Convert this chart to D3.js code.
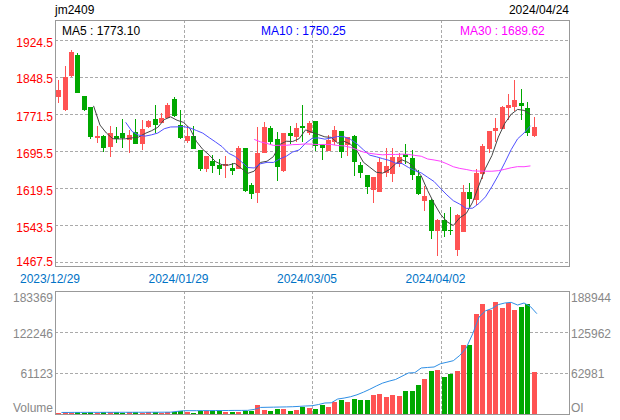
<!DOCTYPE html>
<meta charset="utf-8">
<style>
    body { margin: 0; background: #fff; }
    svg { display: block; font-family: Arial, "Liberation Sans", sans-serif; font-size: 12px; }
    .grid { stroke: #aaa; stroke-dasharray: 3,2; shape-rendering: crispEdges; }
    .frame { fill: none; stroke: #999; shape-rendering: crispEdges; }
</style>
<svg width="620" height="420"></svg>
<script src="https://d3js.org/d3.v7.min.js"></script>
<script>

    var symbol = "jm2409",
        lastDate = "2024/04/24",
        maTexts = ["MA5 : 1773.10", "MA10 : 1750.25", "MA30 : 1689.62"];

    var dateTicks = [[0, "2023/12/29"], [20, "2024/01/29"], [40, "2024/03/05"], [60, "2024/04/02"]];
    var priceTicks = [1467.5, 1543.5, 1619.5, 1695.5, 1771.5, 1848.5, 1924.5];
    var volTicks = [61123, 122246, 183369];
    var oiTicks = [62981, 125962, 188944];

    var opens = [1806.5, 1780.5, 1849, 1893.5, 1809, 1786, 1723.5, 1727, 1703, 1727,
        1732.5, 1718.5, 1735.5, 1710.5, 1746, 1762, 1755, 1763.5, 1802.5, 1749.5,
        1717, 1727.5, 1698, 1658.5, 1675.5, 1667, 1665.5, 1661, 1660.5, 1703,
        1626, 1610, 1691.5, 1743.5, 1720, 1653.5, 1732.5, 1724, 1747.5, 1732.5,
        1758, 1708.5, 1696.5, 1715, 1737, 1710, 1727, 1667, 1646.5, 1615.5,
        1612, 1650, 1648, 1669, 1690, 1681, 1644.5, 1593.5, 1595, 1532,
        1554, 1533.5, 1492, 1530, 1612, 1593.5, 1648.5, 1700, 1737, 1741.5,
        1785, 1787, 1794, 1784, 1725.5];
    var highs = [1842, 1871, 1904, 1898.5, 1809, 1787, 1747.5, 1729, 1747.5, 1745,
        1762, 1739, 1762, 1760, 1760, 1790.5, 1773.5, 1795.5, 1808, 1780.5,
        1747.5, 1747.5, 1698, 1685.5, 1688, 1679.5, 1685.5, 1672, 1706.5, 1703,
        1630.5, 1745, 1756.5, 1747.5, 1734.5, 1733.5, 1748, 1753, 1790.5, 1758,
        1758.5, 1708.5, 1729, 1747.5, 1737, 1725.5, 1729, 1674, 1646.5, 1642.5,
        1681, 1701.5, 1701.5, 1691.5, 1710.5, 1698, 1657, 1624, 1597, 1556,
        1567.5, 1580, 1566.5, 1626, 1629.5, 1658.5, 1710.5, 1737, 1763.5, 1788.5,
        1813.5, 1842, 1823, 1797.5, 1765.5];
    var lows = [1794, 1779, 1849, 1814.5, 1779, 1720, 1712, 1693.5, 1683, 1712,
        1703, 1692.5, 1710.5, 1698, 1742.5, 1733.5, 1753, 1763.5, 1766.5, 1720,
        1713, 1701.5, 1655, 1652, 1651.5, 1646.5, 1640, 1646.5, 1660.5, 1612,
        1597, 1588.5, 1691.5, 1708, 1635, 1653.5, 1710.5, 1714, 1715, 1729,
        1695, 1677.5, 1696.5, 1708.5, 1682, 1686.5, 1645, 1640, 1607.5, 1588.5,
        1612, 1643, 1631.5, 1663.5, 1669, 1636.5, 1605.5, 1573, 1514, 1480.5,
        1518.5, 1523, 1480.5, 1530, 1581.5, 1585, 1637.5, 1692.5, 1715, 1741.5,
        1760, 1779, 1760, 1727.5, 1725.5];
    var closes = [1821.5, 1847.5, 1899, 1814.5, 1780.5, 1723.5, 1727, 1701.5, 1732.5, 1721.5,
        1721.5, 1729, 1710.5, 1740.5, 1758.5, 1749.5, 1764.5, 1790.5, 1768.5, 1723.5,
        1727.5, 1701.5, 1658.5, 1685.5, 1665.5, 1659, 1670, 1655, 1703, 1614.5,
        1607.5, 1692.5, 1745, 1715, 1662.5, 1732.5, 1725.5, 1742.5, 1744, 1753,
        1707, 1703, 1718.5, 1739, 1693.5, 1725.5, 1674, 1650, 1621.5, 1642,
        1674, 1665, 1683, 1683, 1684.5, 1645, 1607.5, 1603.5, 1532, 1554,
        1532, 1530.5, 1564.5, 1612, 1597, 1650, 1706.5, 1737, 1742.5, 1787,
        1790.5, 1801, 1787, 1732.5, 1745];
    var volumes = [2200, 2400, 2000, 2400, 1800, 2400, 2000, 2400, 2300, 2400,
        2000, 2300, 2400, 2200, 2400, 2300, 2200, 2300, 2600, 3900,
        2400, 1500, 3900, 3900, 3900, 3900, 2400, 2400, 2400, 3900,
        3900, 12800, 6400, 3900, 7900, 7900, 4900, 6400, 10200, 8300,
        7900, 12800, 9800, 18300, 20300, 18300, 22800, 20300, 20300, 28800,
        30300, 25800, 28800, 27300, 33700, 33700, 43700, 52600, 64600, 66000,
        55600, 60100, 64600, 103300, 103300, 148500, 164400, 155500, 167400, 158500,
        165900, 154500, 160000, 164400, 63100];
    var ois = [2400, 2400, 2450, 2450, 2500, 2500, 2500, 2550, 2550, 2600,
        2600, 2600, 2650, 2650, 2700, 2700, 2750, 2800, 4000, 5000,
        5100, 5100, 5200, 5200, 5300, 5300, 5400, 5500, 5500, 5600,
        7000, 10100, 10300, 10500, 10700, 10900, 11200, 11700, 12300, 12700,
        14500, 16900, 17200, 23000, 24500, 26500, 29500, 33500, 38000, 43000,
        47500, 50500, 53000, 58000, 63000, 63500, 70700, 71500, 72200, 77300,
        79500, 81900, 90000, 101400, 123000, 149000, 158500, 162000, 168000, 170500,
        171500, 167400, 170500, 165000, 154100];

    var svg = d3.select("svg"),
        main = {left: 55, right: 569, top: 20, bottom: 266},
        sub = {top: 291, bottom: 414},
        slots = 80,
        red = "#ff5353",
        green = "#00a800";

    var x = d3.scaleLinear().domain([0, slots]).range([main.left, main.right]),
        y = d3.scaleLinear().domain([1467.5, 1924.5]).range([262, 40]),
        yVol = d3.scaleLinear().domain([0, 183369]).range([sub.bottom, sub.top]),
        yOi = d3.scaleLinear().domain([0, 188944]).range([sub.bottom, sub.top]);

    var bars = opens.map(function(o, i) {
        return {i: i, open: o, high: highs[i], low: lows[i], close: closes[i], vol: volumes[i], oi: ois[i]};
    });

    function ma(n) {
        var out = [];
        for (var i = n + 1; i < closes.length; i++) {
            out.push({i: i, v: d3.mean(closes.slice(i - n + 1, i + 1))});
        }
        return out;
    }

    // header
    svg.append("text").attr("x", main.left).attr("y", 14).text(symbol);
    svg.append("text").attr("x", main.right).attr("y", 14).attr("text-anchor", "end").text(lastDate);

    // grids
    var g = svg.append("g");
    g.selectAll(".hp").data(priceTicks).enter().append("line")
        .attr("class", "grid")
        .attr("x1", main.left).attr("x2", main.right)
        .attr("y1", function(d) { return Math.round(y(d)) + 0.5; })
        .attr("y2", function(d) { return Math.round(y(d)) + 0.5; });
    g.selectAll(".hv").data(volTicks.slice(0, 2)).enter().append("line")
        .attr("class", "grid")
        .attr("x1", main.left).attr("x2", main.right)
        .attr("y1", function(d) { return Math.round(yVol(d)) + 0.5; })
        .attr("y2", function(d) { return Math.round(yVol(d)) + 0.5; });
    dateTicks.slice(1).forEach(function(t) {
        var xx = Math.round(x(t[0])) + 0.5;
        g.append("line").attr("class", "grid").attr("x1", xx).attr("x2", xx).attr("y1", main.top).attr("y2", main.bottom);
        g.append("line").attr("class", "grid").attr("x1", xx).attr("x2", xx).attr("y1", sub.top).attr("y2", sub.bottom);
    });

    svg.append("rect").attr("class", "frame")
        .attr("x", main.left + 0.5).attr("y", main.top + 0.5)
        .attr("width", main.right - main.left).attr("height", main.bottom - main.top);
    svg.append("rect").attr("class", "frame")
        .attr("x", main.left + 0.5).attr("y", sub.top + 0.5)
        .attr("width", main.right - main.left).attr("height", sub.bottom - sub.top);

    // MA legend
    var maColors = ["#000", "#0000ff", "#ff00ff"];
    [62, 261, 460].forEach(function(px, k) {
        svg.append("text").attr("x", px).attr("y", 35).attr("fill", maColors[k]).text(maTexts[k]);
    });

    // axes labels
    svg.append("g").selectAll("text").data(priceTicks).enter().append("text")
        .attr("x", 53).attr("y", function(d, k) { return y(d) + (k === 0 ? 4 : 6.5); })
        .attr("text-anchor", "end").attr("fill", "#ff0000")
        .text(function(d) { return d.toFixed(1); });

    svg.append("g").selectAll("text").data(dateTicks).enter().append("text")
        .attr("x", function(d) { return x(d[0]) - 5; }).attr("y", 283)
        .attr("text-anchor", "middle").attr("fill", "#0073c6")
        .text(function(d) { return d[1]; });

    var volLabels = [[183369, 297], [122246, 333], [61123, 373]];
    volLabels.forEach(function(v) {
        svg.append("text").attr("x", 53).attr("y", v[1] + 4.5).attr("text-anchor", "end").attr("fill", "#888").text(v[0]);
    });
    svg.append("text").attr("x", 53).attr("y", 411.5).attr("text-anchor", "end").attr("fill", "#888").text("Volume");
    var oiLabels = [[188944, 297], [125962, 333], [62981, 373]];
    oiLabels.forEach(function(v) {
        svg.append("text").attr("x", 571).attr("y", v[1] + 4.5).attr("fill", "#888").text(v[0]);
    });
    svg.append("text").attr("x", 571).attr("y", 411.5).attr("fill", "#888").text("OI");

    // candles
    var candle = svg.append("g").attr("shape-rendering", "crispEdges")
        .selectAll("g").data(bars).enter().append("g");
    candle.append("line")
        .attr("x1", function(d) { return Math.round(x(d.i + 0.5)) + 0.5; })
        .attr("x2", function(d) { return Math.round(x(d.i + 0.5)) + 0.5; })
        .attr("y1", function(d) { return Math.round(y(d.high)); })
        .attr("y2", function(d) { return Math.round(y(d.low)); })
        .attr("stroke", function(d) { return d.close >= d.open ? red : green; });
    candle.append("rect")
        .attr("x", function(d) { return Math.round(x(d.i + 0.5)) - 2; })
        .attr("width", 5)
        .attr("y", function(d) { return Math.round(y(Math.max(d.open, d.close))); })
        .attr("height", function(d) { return Math.max(1, Math.round(Math.abs(y(d.open) - y(d.close)))); })
        .attr("fill", function(d) { return d.close >= d.open ? red : green; });

    // moving averages
    var maLine = d3.line()
        .x(function(d) { return x(d.i); })
        .y(function(d) { return y(d.v); });
    [[5, "#444"], [10, "#5050ff"], [30, "#ff40ff"]].forEach(function(m) {
        svg.append("path").datum(ma(m[0]))
            .attr("fill", "none").attr("stroke", m[1]).attr("stroke-width", 1)
            .attr("d", maLine);
    });

    // volume
    svg.append("g").attr("shape-rendering", "crispEdges")
        .selectAll("rect").data(bars).enter().append("rect")
        .attr("x", function(d) { return Math.round(x(d.i + 0.5)) - 2; })
        .attr("width", 5)
        .attr("y", function(d) { return Math.round(yVol(d.vol)); })
        .attr("height", function(d) { return sub.bottom - Math.round(yVol(d.vol)); })
        .attr("fill", function(d) { return d.close >= d.open ? red : green; });

    svg.append("path").datum(bars)
        .attr("fill", "none").attr("stroke", "#2e8fe6").attr("stroke-width", 1)
        .attr("d", d3.line()
            .x(function(d) { return x(d.i + 1); })
            .y(function(d) { return yOi(d.oi); }));

</script>
